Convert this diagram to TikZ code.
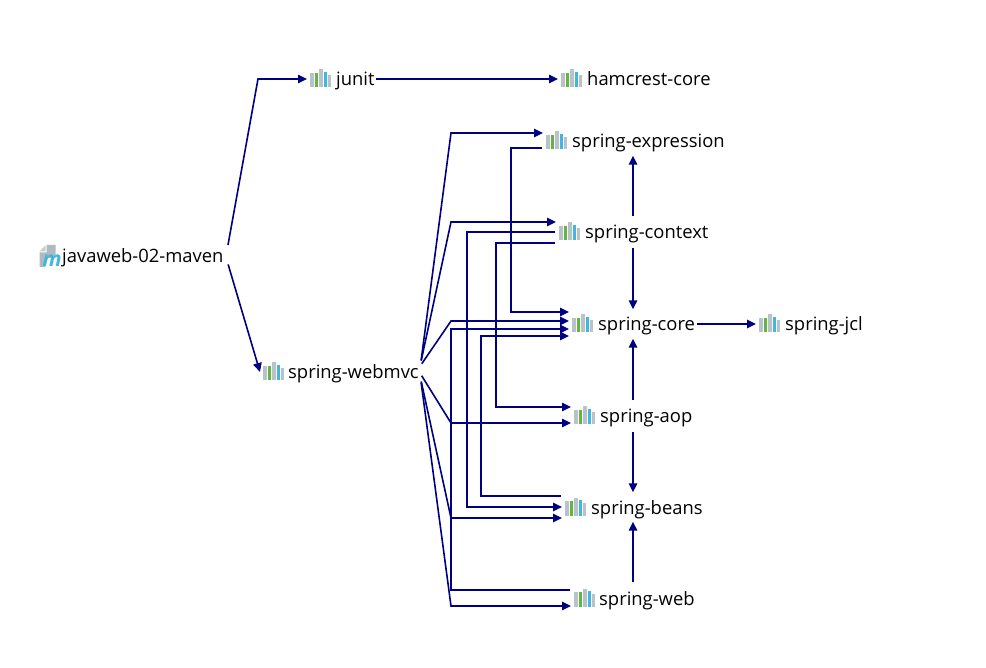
\documentclass[tikz,border=0pt]{standalone}
\usepackage{fontspec}
\setmainfont{Open Sans}
\usetikzlibrary{calc,arrows.meta}
\definecolor{edgeblue}{HTML}{000080}
\definecolor{bargray}{HTML}{B8C2C9}
\definecolor{bargreen}{HTML}{62B543}
\definecolor{barblue}{HTML}{40B6E0}
\definecolor{pagegray}{HTML}{AEB9C0}
\tikzset{
  x=1pt,y=-1pt,
  edge/.style={draw=edgeblue,line width=1.6pt,line join=miter,-{Triangle[length=9pt,width=8.5pt]},shorten <=1.5pt},
  dep/.style={anchor=west,inner xsep=0pt,inner ysep=0pt,minimum height=29pt,text height=17pt,text depth=3pt,text=black,
    font=\fontsize{18.4pt}{20pt}\selectfont},
  jaricon/.pic={
    \fill[bargray]  (0,8.5) rectangle (3.6,-6);
    \fill[bargreen] (4.5,8.5) rectangle (8.1,-6);
    \fill[bargray]  (9,8.5) rectangle (12.6,-9.5);
    \fill[barblue]  (13.5,8.5) rectangle (17.1,-7);
    \fill[bargray]  (18,8.5) rectangle (21.4,-4);
  },
  mvnicon/.pic={
    \fill[pagegray] (7,-11) -- (16,-11) -- (16,2) -- (5.5,2) -- (5.5,11) -- (0,11) -- (0,-3.5) -- (7,-3.5) -- cycle;
    \fill[pagegray!70] (0,-4.5) -- (6,-4.5) -- (6,-10.5) -- cycle;
    \node[text=barblue,inner sep=0pt,font=\fontsize{21pt}{21pt}\selectfont\bfseries\itshape] at (12.5,4.5) {m};
  },
}
\begin{document}
\begin{tikzpicture}
\useasboundingbox (0,0) rectangle (986,668);
\fill[white] (0,0) rectangle (986,668);
% nodes
\node[dep] (root) at (36,256) {\hspace{26pt}javaweb-02-maven};
\node[dep] (junit) at (307,79) {\hspace{29pt}junit};
\node[dep] (hamcrest) at (558,79) {\hspace{29pt}hamcrest-core};
\node[dep] (webmvc) at (260,372) {\hspace{28pt}spring-webmvc};
\node[dep] (expression) at (543,141) {\hspace{29pt}spring-expression};
\node[dep] (context) at (556,232) {\hspace{29pt}spring-context};
\node[dep] (core) at (569,324) {\hspace{29pt}spring-core};
\node[dep] (jcl) at (756,324) {\hspace{29pt}spring-jcl};
\node[dep] (aop) at (571,416) {\hspace{29pt}spring-aop};
\node[dep] (beans) at (562,507) {\hspace{29pt}spring-beans};
\node[dep] (web) at (571,598) {\hspace{28pt}spring-web};
% icons
\pic at ($(root.west)+(3.5,0)$) {mvnicon};
\foreach \n in {junit,hamcrest,webmvc,expression,context,core,jcl,aop,beans,web}
  \pic at ($(\n.west)+(3,0)$) {jaricon};
% routing columns
\coordinate (busA) at (451,0);
\coordinate (busB) at (467,0);
\coordinate (busC) at (481,0);
\coordinate (busD) at (496,0);
\coordinate (busE) at (511,0);
\coordinate (spine) at (633,0);
\coordinate (rootbend) at (258,79);
% root
\draw[edge] ($(root.east)+(4,-9.5)$) -- (rootbend) -- (junit.west);
\draw[edge] ($(root.east)+(4,7)$) -- (webmvc.west);
\draw[edge] (junit.east) -- (hamcrest.west);
% webmvc fan
\coordinate (a1) at ($(expression.west)+(0,-8)$);
\coordinate (a2) at ($(context.west)+(0,-10)$);
\coordinate (a3) at ($(core.west)+(0,-3)$);
\coordinate (a4) at ($(aop.west)+(0,7)$);
\coordinate (a5) at ($(beans.west)+(0,11)$);
\coordinate (a6) at ($(web.west)+(0,8)$);
\draw[edge] ($(webmvc.east)+(2,-10)$) -- (busA |- a1) -- (a1);
\draw[edge] ($(webmvc.east)+(2,-10)$) -- (busA |- a2) -- (a2);
\draw[edge] ($(webmvc.east)+(2,-7)$) -- (busA |- a3) -- (a3);
\draw[edge] ($(webmvc.east)+(2,2.5)$) -- (busA |- a4) -- (a4);
\draw[edge] ($(webmvc.east)+(2,8)$) -- (busA |- a5) -- (a5);
\draw[edge] ($(webmvc.east)+(2,9)$) -- (busA |- a6) -- (a6);
% expression -> core
\coordinate (b1) at ($(expression.west)+(0,7)$);
\coordinate (b2) at ($(core.west)+(0,-12)$);
\draw[edge] (b1) -- (busE |- b1) -- (busE |- b2) -- (b2);
% context -> beans, aop
\coordinate (c1) at ($(context.west)+(0,0)$);
\coordinate (c2) at ($(beans.west)+(0,0)$);
\draw[edge] (c1) -- (busB |- c1) -- (busB |- c2) -- (c2);
\coordinate (d1) at ($(context.west)+(0,11)$);
\coordinate (d2) at ($(aop.west)+(0,-9)$);
\draw[edge] (d1) -- (busD |- d1) -- (busD |- d2) -- (d2);
% beans -> core
\coordinate (e1) at ($(beans.west)+(0,-11)$);
\coordinate (e2) at ($(core.west)+(0,12)$);
\draw[edge] (e1) -- (busC |- e1) -- (busC |- e2) -- (e2);
% web -> core
\coordinate (f1) at ($(web.west)+(0,-8)$);
\coordinate (f2) at ($(core.west)+(0,5)$);
\draw[edge] (f1) -- (busA |- f1) -- (busA |- f2) -- (f2);
% vertical
\draw[edge] (context.north -| spine) -- (expression.south -| spine);
\draw[edge] (context.south -| spine) -- (core.north -| spine);
\draw[edge] (aop.north -| spine) -- (core.south -| spine);
\draw[edge] (aop.south -| spine) -- (beans.north -| spine);
\draw[edge] (web.north -| spine) -- (beans.south -| spine);
\draw[edge] (core.east) -- (jcl.west);
\end{tikzpicture}
\end{document}
